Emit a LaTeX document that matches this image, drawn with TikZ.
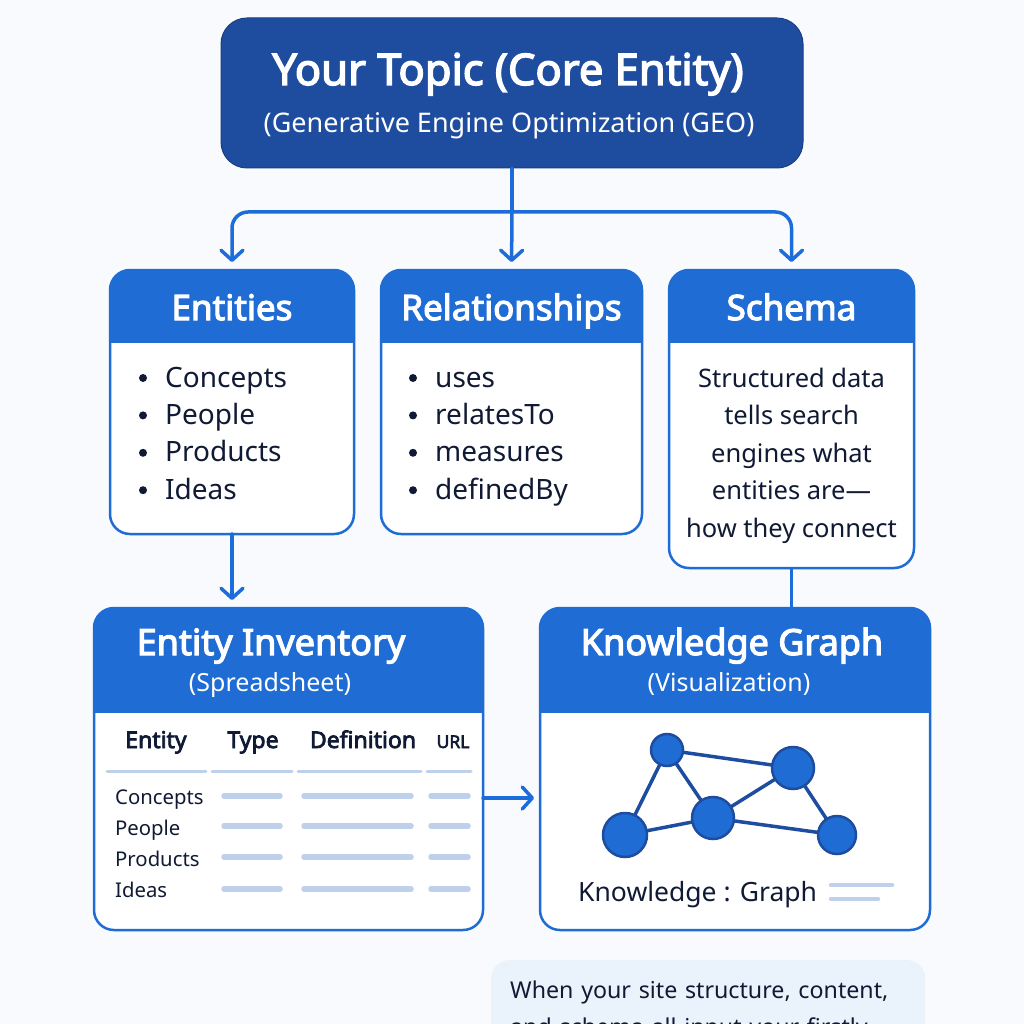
\documentclass[tikz,border=0pt]{standalone}
\usepackage{fontspec}
\setmainfont{Noto Sans}[AutoFakeBold=3.2]
\usepackage{xcolor}
\usetikzlibrary{arrows.meta,positioning}

\definecolor{pagebg}{RGB}{248,250,253}
\definecolor{topblue}{RGB}{30,77,160}
\definecolor{hdrblue}{RGB}{30,108,212}
\definecolor{linkblue}{RGB}{28,108,218}
\definecolor{inkdark}{RGB}{16,26,52}
\definecolor{barblue}{RGB}{190,208,234}
\definecolor{noteblue}{RGB}{234,242,252}

\begin{document}
\begin{tikzpicture}[x=1pt,y=-1pt,
    card/.style={draw=hdrblue,line width=2.5pt,fill=white,rounded corners=20pt,inner sep=0pt,outer sep=0pt},
    hdrtxt/.style={text=white,font=\fontsize{35}{40}\selectfont\bfseries,anchor=base,inner sep=0pt},
    bighdr/.style={hdrtxt,font=\fontsize{36}{40}\selectfont\bfseries},
    subtxt/.style={text=white,font=\fontsize{25}{30}\selectfont,anchor=base,inner sep=0pt},
    item/.style={text=inkdark,font=\fontsize{28}{32}\selectfont,anchor=base west,inner sep=0pt},
    link/.style={draw=linkblue,line width=3.5pt,line cap=round},
    arr/.style={link,-{Straight Barb[length=10pt,width=22pt,line cap=round,line join=round]}},
    bar/.style={barblue,line width=5.5pt,line cap=round},
    gnode/.style={circle,fill=hdrblue,draw=topblue,line width=2.5pt,inner sep=0pt}]
  \fill[pagebg] (0,0) rectangle (1024,1024);
  \useasboundingbox (0,0) rectangle (1024,1024);

  % core entity
  \node[fill=topblue,draw=topblue!80!black,line width=1pt,rounded corners=26pt,minimum width=582pt,minimum height=150pt,inner sep=0pt] (top) at (512,93) {};
  \node[text=white,font=\fontsize{43.5}{46}\selectfont\bfseries,anchor=base,inner sep=0pt] (topT) at (508,85) {Your Topic (Core Entity)};
  \node[text=white,font=\fontsize{27}{32}\selectfont,anchor=base,inner sep=0pt] (topS) at (509,133) {(Generative Engine Optimization (GEO)};

  % cards
  \node[card,minimum width=244pt,minimum height=264pt] (ent) at (232,402) {};
  \node[card,minimum width=261pt,minimum height=264pt] (rel) at (511.5,402) {};
  \node[card,minimum width=245pt,minimum height=298pt] (sch) at (791.5,419) {};
  \node[card,minimum width=389pt,minimum height=322pt] (inv) at (288.5,769) {};
  \node[card,minimum width=390pt,minimum height=322pt] (kg) at (735,769) {};
  \foreach \b/\h in {ent/72,rel/72,sch/72,inv/104,kg/104} {
    \begin{scope}
      \clip ([xshift=-3pt,yshift=3pt]\b.north west) rectangle ([xshift=3pt,yshift=-\h pt]\b.north east);
      \fill[hdrblue,rounded corners=20pt] (\b.south west) rectangle (\b.north east);
    \end{scope}
  }

  % connectors
  \coordinate (split) at (512,212);
  \draw[link] (top.south) -- (split);
  \draw[arr,rounded corners=16pt,shorten >=8pt] (split) -| (ent.north);
  \draw[arr,rounded corners=16pt,shorten >=8pt] (split) -| (sch.north);
  \draw[arr,shorten >=8pt] (split) -- (rel.north);
  \draw[arr,shorten >=8pt] (ent.south) -- (ent.south |- inv.north);
  \draw[link,line cap=butt] (sch.south) -- (sch.south |- kg.north);
  \draw[arr,shorten >=6pt] ([yshift=-29pt]inv.east) -- ([yshift=-29pt]kg.west);

  % card headers
  \node[hdrtxt] (entT) at (232,320) {Entities};
  \node[hdrtxt] (relT) at (511.5,320) {Relationships};
  \node[hdrtxt] (schT) at (791.5,320) {Schema};
  \node[bighdr] (invT) at (271,655) {Entity Inventory};
  \node[subtxt] (invS) at (270,691) {(Spreadsheet)};
  \node[bighdr] (kgT) at (732,655) {Knowledge Graph};
  \node[subtxt] (kgS) at (729,691) {(Visualization)};

  % bullet lists
  \foreach \t [count=\i] in {Concepts,People,Products,Ideas} {
    \fill[inkdark] (143,{378+37.4*(\i-1)}) circle (4pt);
    \node[item] (entI\i) at (165,{387+37.4*(\i-1)}) {\t};
  }
  \foreach \t [count=\i] in {uses,relatesTo,measures,definedBy} {
    \fill[inkdark] (413,{378+37.4*(\i-1)}) circle (4pt);
    \node[item] (relI\i) at (435,{387+37.4*(\i-1)}) {\t};
  }
  \foreach \t [count=\i] in {Structured data,tells search,engines what,entities are---,how they connect} {
    \node[item,anchor=base,font=\fontsize{25.5}{30}\selectfont] (schL\i) at (791.5,{387+37.5*(\i-1)}) {\t};
  }

  % spreadsheet
  \foreach \x/\t in {156/Entity,253/Type,363/Definition} {
    \node[item,anchor=base,font=\fontsize{23}{28}\selectfont\bfseries] (col\t) at (\x,748) {\t};
  }
  \node[item,anchor=base,font=\fontsize{17.5}{22}\selectfont\bfseries] (colURL) at (453,748) {URL};
  \foreach \a/\b in {107/206,212/292,298/421,427/471} {
    \draw[barblue,line width=3pt,line cap=round] (\a,771) -- (\b,771);
  }
  \foreach \t/\y/\yb [count=\i] in {Concepts/804/796,People/835/826,Products/866/857,Ideas/897/889} {
    \node[item,font=\fontsize{20.3}{25}\selectfont] (row\i) at (115,\y) {\t};
    \draw[bar] (224,\yb) -- (280,\yb);
    \draw[bar] (304,\yb) -- (411,\yb);
    \draw[bar] (431,\yb) -- (468,\yb);
  }

  % graph
  \foreach \n/\x/\y in {g1/667/750,g2/793/768,g3/625/835,g4/713/818,g5/837/835} {
    \coordinate (\n) at (\x,\y);
  }
  \foreach \a/\b in {g1/g2,g1/g3,g1/g4,g4/g2,g3/g4,g4/g5,g2/g5} {
    \draw[topblue,line width=3.5pt] (\a) -- (\b);
  }
  \foreach \n/\r in {g1/16,g2/21,g3/22,g4/21,g5/19} {
    \node[gnode,minimum size=2*\r pt] (\n n) at (\n) {};
  }
  \node[item,font=\fontsize{26.5}{30}\selectfont] (kgL) at (578,901) {Knowledge : Graph};
  \draw[bar,line width=4.5pt] (831,885) -- (892,885);
  \draw[bar,line width=4.5pt] (831,899) -- (878,899);

  % note
  \node[fill=noteblue,rounded corners=18pt,anchor=north west,text width=396pt,inner xsep=19pt,inner ysep=21pt,align=left,
        text=inkdark,font=\fontsize{23.2}{37}\selectfont] (note) at (491,960)
        {When your site structure, content,\\and schema all input your firstly};
\end{tikzpicture}
\end{document}
